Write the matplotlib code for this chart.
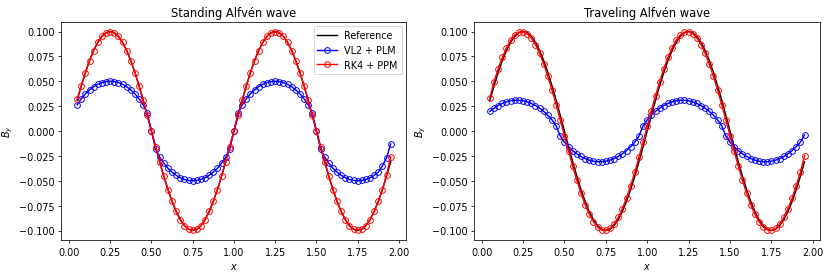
import matplotlib
matplotlib.use('Agg')
import matplotlib.pyplot as plt
import numpy as np

# cell centres that were plotted (dx = 0.025)
x = np.linspace(0.05, 1.95, 77)

# exact solution, same in both panels
ref = [0.0309, 0.0454, 0.0588, 0.0707, 0.0809, 0.0891, 0.0951, 0.0988, 0.1000, 0.0988,
       0.0951, 0.0891, 0.0809, 0.0707, 0.0588, 0.0454, 0.0309, 0.0156, 0.0000, -0.0156,
       -0.0309, -0.0454, -0.0588, -0.0707, -0.0809, -0.0891, -0.0951, -0.0988, -0.1000, -0.0988,
       -0.0951, -0.0891, -0.0809, -0.0707, -0.0588, -0.0454, -0.0309, -0.0156, 0.0000, 0.0156,
       0.0309, 0.0454, 0.0588, 0.0707, 0.0809, 0.0891, 0.0951, 0.0988, 0.1000, 0.0988,
       0.0951, 0.0891, 0.0809, 0.0707, 0.0588, 0.0454, 0.0309, 0.0156, 0.0000, -0.0156,
       -0.0309, -0.0454, -0.0588, -0.0707, -0.0809, -0.0891, -0.0951, -0.0988, -0.1000, -0.0988,
       -0.0951, -0.0891, -0.0809, -0.0707, -0.0588, -0.0454, -0.0309]

# standing wave
stand_vl2 = [0.0263, 0.0324, 0.0374, 0.0413, 0.0445, 0.0470, 0.0487, 0.0497, 0.0500, 0.0497,
             0.0487, 0.0470, 0.0445, 0.0413, 0.0374, 0.0324, 0.0263, 0.0181, 0.0000, -0.0181,
             -0.0263, -0.0324, -0.0374, -0.0413, -0.0445, -0.0470, -0.0487, -0.0497, -0.0500, -0.0497,
             -0.0487, -0.0470, -0.0445, -0.0413, -0.0374, -0.0324, -0.0263, -0.0181, 0.0000, 0.0181,
             0.0263, 0.0324, 0.0374, 0.0413, 0.0445, 0.0470, 0.0487, 0.0497, 0.0500, 0.0497,
             0.0487, 0.0470, 0.0445, 0.0413, 0.0374, 0.0324, 0.0263, 0.0181, 0.0000, -0.0181,
             -0.0263, -0.0324, -0.0374, -0.0413, -0.0445, -0.0470, -0.0487, -0.0497, -0.0500, -0.0497,
             -0.0487, -0.0470, -0.0445, -0.0413, -0.0350, -0.0270, -0.0130]
stand_rk4 = [0.0320, 0.0454, 0.0588, 0.0707, 0.0809, 0.0891, 0.0951, 0.0988, 0.0995, 0.0988,
             0.0951, 0.0891, 0.0809, 0.0707, 0.0588, 0.0454, 0.0309, 0.0156, 0.0000, -0.0156,
             -0.0309, -0.0454, -0.0588, -0.0707, -0.0809, -0.0891, -0.0951, -0.0988, -0.0995, -0.0988,
             -0.0951, -0.0891, -0.0809, -0.0707, -0.0588, -0.0454, -0.0309, -0.0156, 0.0000, 0.0156,
             0.0309, 0.0454, 0.0588, 0.0707, 0.0809, 0.0891, 0.0951, 0.0988, 0.0995, 0.0988,
             0.0951, 0.0891, 0.0809, 0.0707, 0.0588, 0.0454, 0.0309, 0.0156, 0.0000, -0.0156,
             -0.0309, -0.0454, -0.0588, -0.0707, -0.0809, -0.0891, -0.0951, -0.0988, -0.0995, -0.0988,
             -0.0951, -0.0891, -0.0809, -0.0707, -0.0588, -0.0440, -0.0260]

# traveling wave
trav_vl2 = [0.0197, 0.0229, 0.0256, 0.0277, 0.0293, 0.0304, 0.0309, 0.0309, 0.0304, 0.0293,
            0.0277, 0.0256, 0.0229, 0.0197, 0.0158, 0.0112, 0.0052, -0.0052, -0.0112, -0.0158,
            -0.0197, -0.0229, -0.0256, -0.0277, -0.0293, -0.0304, -0.0309, -0.0309, -0.0304, -0.0293,
            -0.0277, -0.0256, -0.0229, -0.0197, -0.0158, -0.0112, -0.0052, 0.0052, 0.0112, 0.0158,
            0.0197, 0.0229, 0.0256, 0.0277, 0.0293, 0.0304, 0.0309, 0.0309, 0.0304, 0.0293,
            0.0277, 0.0256, 0.0229, 0.0197, 0.0158, 0.0112, 0.0052, -0.0052, -0.0112, -0.0158,
            -0.0197, -0.0229, -0.0256, -0.0277, -0.0293, -0.0304, -0.0309, -0.0309, -0.0304, -0.0293,
            -0.0277, -0.0256, -0.0229, -0.0197, -0.0158, -0.0112, -0.0040]
trav_rk4 = [0.0335, 0.0496, 0.0625, 0.0740, 0.0836, 0.0911, 0.0965, 0.0994, 0.0999, 0.0979,
            0.0935, 0.0869, 0.0780, 0.0673, 0.0549, 0.0412, 0.0264, 0.0110, -0.0047, -0.0203,
            -0.0354, -0.0496, -0.0625, -0.0740, -0.0836, -0.0911, -0.0965, -0.0994, -0.0999, -0.0979,
            -0.0935, -0.0869, -0.0780, -0.0673, -0.0549, -0.0412, -0.0264, -0.0110, 0.0047, 0.0203,
            0.0354, 0.0496, 0.0625, 0.0740, 0.0836, 0.0911, 0.0965, 0.0994, 0.0999, 0.0979,
            0.0935, 0.0869, 0.0780, 0.0673, 0.0549, 0.0412, 0.0264, 0.0110, -0.0047, -0.0203,
            -0.0354, -0.0496, -0.0625, -0.0740, -0.0836, -0.0911, -0.0965, -0.0994, -0.0999, -0.0979,
            -0.0935, -0.0869, -0.0780, -0.0673, -0.0549, -0.0412, -0.0250]

fig = plt.figure(figsize=(12, 3.971), dpi=69.25)
ax1 = fig.add_axes([0.074, 0.122, 0.415, 0.796])
ax2 = fig.add_axes([0.5706, 0.122, 0.4165, 0.796])

panels = [(ax1, "Standing Alfvén wave", stand_vl2, stand_rk4),
          (ax2, "Traveling Alfvén wave", trav_vl2, trav_rk4)]
for ax, title, vl2, rk4 in panels:
    ax.plot(x, ref, 'k-', label="Reference")
    ax.plot(x, vl2, 'b-o', mfc='none', label="VL2 + PLM")
    ax.plot(x, rk4, 'r-o', mfc='none', label="RK4 + PPM")
    ax.set_title(title)
    ax.set_xlabel("$x$")
    ax.set_ylabel("$B_y$")

ax1.legend(loc="upper right")
fig.savefig("out.png", dpi=69.25)
